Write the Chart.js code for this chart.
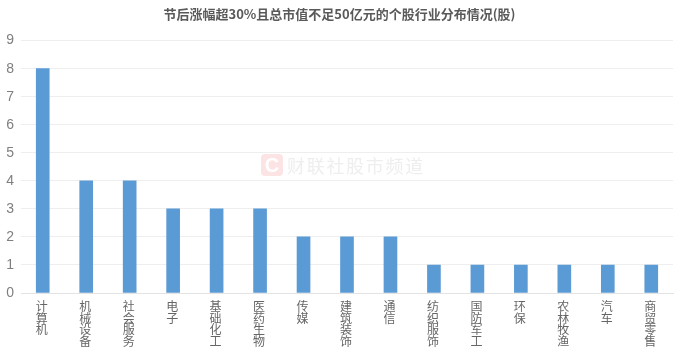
<!DOCTYPE html>
<html>
<head>
<meta charset="utf-8">
<style>
  html, body { margin: 0; padding: 0; background: #fff; }
  #wrap { position: relative; width: 692px; height: 353px; overflow: hidden; }
  #mark { position: absolute; left: 261px; top: 154px; height: 22px; display: flex; align-items: center; }
  #mark .logo { width: 22px; height: 22px; border-radius: 4px; background: #fde4e4; color: #fff; font: bold 20px/22px "Liberation Sans"; text-align: center; }
  #mark .name { margin-left: 4px; color: #eeeeee; font: 18px/22px "Noto Sans CJK SC"; letter-spacing: 1.7px; }
</style>
</head>
<body>
<div id="wrap">
  <canvas id="chart" width="692" height="353"></canvas>
  <div id="mark"><span class="logo">C</span><span class="name">财联社股市频道</span></div>
</div>
<script src="https://cdn.jsdelivr.net/npm/chart.js@4/dist/chart.umd.min.js"></script>
<script>
const titleText = '节后涨幅超30%且总市值不足50亿元的个股行业分布情况(股)';
const categories = ['计算机', '机械设备', '社会服务', '电子', '基础化工', '医药生物', '传媒', '建筑装饰', '通信', '纺织服饰', '国防军工', '环保', '农林牧渔', '汽车', '商贸零售'];
const stockCounts = [8, 4, 4, 3, 3, 3, 2, 2, 2, 1, 1, 1, 1, 1, 1];
const yMax = 9;

// 竖排标签：每个字一行
const verticalLabels = categories.map(function(name) {
    return name.split('');
});

new Chart(document.getElementById('chart'), {
    type: 'bar',
    data: {
        labels: verticalLabels,
        datasets: [{
            data: stockCounts,
            backgroundColor: '#5b9bd5',
            barThickness: 13
        }]
    },
    options: {
        responsive: false,
        animation: false,
        layout: { padding: { left: 6, right: 19, top: 0, bottom: 0 } },
        plugins: {
            legend: { display: false },
            tooltip: { enabled: false },
            title: {
                display: true,
                text: titleText,
                color: '#595959',
                font: { family: '"Noto Sans CJK SC"', size: 13, weight: 'bold' },
                padding: { top: 6, bottom: 19 }
            }
        },
        scales: {
            x: {
                afterFit: function(scale) {
                    scale.height = 60;
                },
                grid: { display: false },
                border: { color: '#e3e3e3' },
                ticks: {
                    color: '#666666',
                    autoSkip: false,
                    maxRotation: 0,
                    minRotation: 0,
                    padding: 0,
                    labelOffset: -1,
                    font: { family: '"Noto Sans CJK SC"', size: 12, lineHeight: 0.96 }
                }
            },
            y: {
                afterFit: function(scale) {
                    scale.width = 15;
                },
                min: 0,
                max: yMax,
                grid: { color: '#eeeeee', drawTicks: false },
                border: { display: false },
                ticks: {
                    stepSize: 1,
                    color: '#7f7f7f',
                    padding: 7,
                    font: { family: '"Liberation Sans"', size: 14 }
                }
            }
        }
    }
});
</script>
</body>
</html>
